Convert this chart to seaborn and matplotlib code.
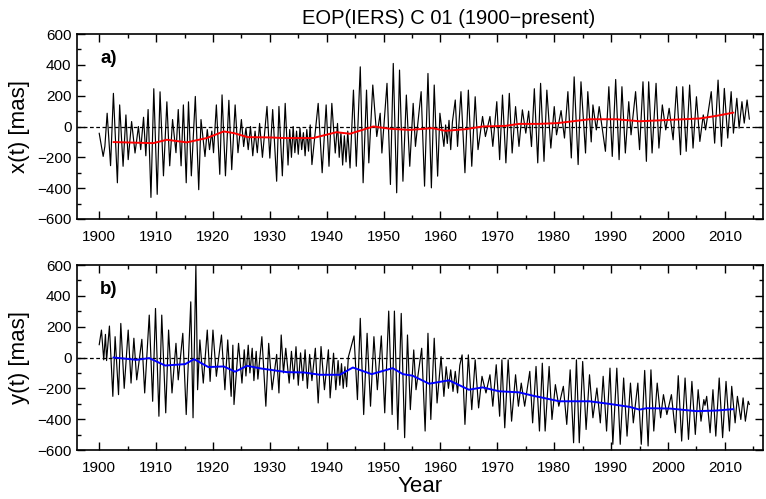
import numpy as np
import pandas as pd
import matplotlib
matplotlib.use("Agg")
import matplotlib.pyplot as plt
import seaborn as sns
from matplotlib.ticker import MultipleLocator

# ---------------- data ----------------
# panel a: x(t) polar motion, extrema [year, mas]
xa_years = [1900.0, 1900.7, 1901.0, 1901.4, 1902.0, 1902.5, 1903.2, 1903.6, 1904.2, 1904.7,
            1905.1, 1905.7, 1906.3, 1906.9, 1907.3, 1907.8, 1908.2, 1908.6, 1909.1, 1909.6,
            1910.2, 1910.7, 1911.3, 1911.9, 1912.4, 1912.9, 1913.5, 1913.9, 1914.4, 1914.8,
            1915.3, 1915.7, 1916.2, 1916.9, 1917.5, 1917.9, 1918.6, 1919.0, 1919.4, 1919.8,
            1920.1, 1920.6, 1921.2, 1921.6, 1922.2, 1922.8, 1923.3, 1923.9, 1924.4, 1925.0,
            1925.4, 1925.8, 1926.2, 1926.6, 1927.0, 1927.4, 1927.8, 1928.2, 1928.7, 1929.5,
            1930.0, 1930.5, 1931.2, 1931.6, 1932.2, 1932.7, 1933.2, 1933.5, 1933.8, 1934.1,
            1934.4, 1934.7, 1935.0, 1935.3, 1935.6, 1935.9, 1936.2, 1936.5, 1936.8, 1937.1,
            1937.4, 1938.5, 1939.2, 1939.9, 1940.4, 1940.9, 1941.5, 1941.9, 1942.2, 1942.5,
            1942.8, 1943.1, 1943.4, 1943.7, 1944.1, 1944.7, 1945.2, 1945.9, 1946.4, 1947.0,
            1947.4, 1948.1, 1948.8, 1949.4, 1949.7, 1950.6, 1951.2, 1951.7, 1952.3, 1952.8,
            1953.4, 1954.0, 1954.6, 1955.2, 1955.6, 1956.6, 1957.2, 1957.8, 1958.4, 1958.9,
            1959.5, 1959.9, 1960.6, 1960.9, 1961.2, 1961.5, 1961.8, 1962.1, 1962.6, 1963.0,
            1963.6, 1964.3, 1964.9, 1965.5, 1966.1, 1966.6, 1967.4, 1967.9, 1968.7, 1969.2,
            1969.9, 1970.4, 1970.9, 1971.5, 1972.1, 1972.6, 1973.2, 1973.8, 1974.4, 1975.0,
            1975.5, 1976.0, 1976.5, 1977.1, 1977.6, 1978.2, 1978.7, 1979.4, 1980.0, 1980.4,
            1981.2, 1981.8, 1982.4, 1983.0, 1983.5, 1984.2, 1984.7, 1985.5, 1985.9, 1986.5,
            1986.8, 1987.4, 1987.9, 1989.0, 1989.6, 1990.2, 1990.8, 1991.4, 1991.9, 1992.5,
            1993.1, 1993.5, 1994.3, 1995.0, 1995.6, 1996.2, 1996.6, 1997.2, 1997.9, 1998.4,
            1999.0, 1999.6, 2000.2, 2000.9, 2001.5, 2002.2, 2002.6, 2003.2, 2003.8, 2004.4,
            2005.0, 2005.6, 2006.2, 2006.6, 2007.6, 2008.2, 2008.8, 2009.4, 2009.9, 2010.5,
            2011.1, 2011.5, 2012.1, 2012.5, 2013.0, 2013.4, 2013.9, 2014.3]
xa_vals = [-43, -194, -129, 86, -254, 215, -365, 140, -258, 75,
           -215, 32, -172, 0, -150, 60, -190, 110, -460, 245,
           -440, 225, -320, 160, -255, 45, -170, 110, -255, 140,
           -365, 160, -320, 195, -410, 45, -195, -20, -150, -30,
           -170, 140, -310, 205, -320, 170, -280, 140, -170, 45,
           -130, -10, -150, 0, -190, -30, -170, 20, -200, 130,
           -205, 110, -355, 130, -320, 150, -250, -20, -200, 0,
           -170, -30, -180, -10, -150, -40, -190, -20, -160, 10,
           -247, 150, -300, 140, -258, 150, -172, 20, -200, -40,
           -250, -60, -230, -30, -269, 236, -258, 387, -365, 236,
           -236, 269, -65, 86, -172, 280, -376, 409, -430, 366,
           -355, 204, -258, 150, -129, 226, -387, 344, -398, 269,
           -322, 86, -129, 10, -110, 40, -150, 30, 172, -129,
           226, -300, 236, -258, 193, -150, 65, -65, 65, -129,
           161, -215, 204, -236, 215, -172, 129, -129, 108, -43,
           100, -130, 245, -236, 280, -226, 236, -140, 129, -54,
           103, -75, 226, -204, 322, -247, 290, -172, 226, -100,
           140, -22, 129, -161, 258, -194, 305, -215, 258, -172,
           161, -54, 226, -150, 290, -226, 290, -172, 280, -140,
           140, -22, 118, -86, 258, -183, 258, -161, 269, -140,
           193, -97, 75, -22, 226, -108, 301, -129, 247, -75,
           226, -43, 183, -11, 161, 22, 172, 47]

# red line: long-period mean of x(t)
xm_years = [1902.5, 1909.5, 1911.9, 1915.4, 1918.9, 1921.9, 1923.7, 1926.1, 1930.1, 1932.5,
            1936.0, 1937.6, 1941.7, 1944.1, 1948.2, 1951.2, 1954.6, 1958.6, 1960.9, 1964.5,
            1967.4, 1971.4, 1973.8, 1977.3, 1980.6, 1986.2, 1990.9, 1995.0, 2000.3, 2005.6,
            2008.5, 2011.5]
xm_vals = [-101, -108, -86, -103, -75, -32, -43, -69, -71, -75,
           -75, -75, -37, -47, 0, -15, -22, -11, -28, -17,
           0, 4, 17, 17, 22, 47, 47, 34, 43, 52,
           69, 90]

# panel b: y(t) polar motion, extrema [year, mas]
yb_years = [1900.0, 1900.4, 1900.8, 1901.1, 1901.3, 1901.8, 1902.4, 1902.8, 1903.4, 1903.8,
            1904.4, 1905.1, 1905.6, 1906.1, 1906.6, 1907.5, 1908.0, 1908.8, 1909.4, 1909.9,
            1910.5, 1911.0, 1911.7, 1912.2, 1912.8, 1913.5, 1913.9, 1914.7, 1915.3, 1916.1,
            1916.5, 1917.0, 1917.3, 1917.7, 1918.3, 1919.0, 1919.5, 1920.0, 1920.6, 1921.5,
            1922.1, 1922.6, 1923.2, 1923.5, 1923.7, 1924.5, 1925.1, 1925.5, 1925.8, 1926.2,
            1926.5, 1926.9, 1927.2, 1927.6, 1927.9, 1928.6, 1929.3, 1929.8, 1930.4, 1931.2,
            1931.6, 1932.0, 1932.4, 1932.8, 1933.4, 1933.8, 1934.2, 1934.6, 1935.0, 1935.4,
            1935.8, 1936.2, 1936.6, 1937.0, 1937.4, 1938.0, 1938.5, 1939.0, 1939.6, 1940.3,
            1940.6, 1941.2, 1941.6, 1942.0, 1942.3, 1942.6, 1942.9, 1943.2, 1943.5, 1943.8,
            1944.8, 1945.4, 1945.9, 1946.5, 1947.1, 1947.7, 1948.3, 1948.9, 1949.6, 1950.2,
            1950.9, 1951.5, 1951.9, 1952.5, 1953.1, 1953.7, 1954.2, 1954.7, 1955.3, 1955.7,
            1956.7, 1957.3, 1957.8, 1958.3, 1958.9, 1959.4, 1960.1, 1960.6, 1961.0, 1961.4,
            1961.8, 1962.2, 1962.6, 1963.0, 1963.4, 1963.8, 1964.3, 1964.9, 1965.5, 1966.1,
            1966.7, 1967.3, 1968.0, 1968.7, 1969.2, 1969.8, 1970.4, 1970.8, 1971.3, 1971.9,
            1972.5, 1973.2, 1973.7, 1974.2, 1974.8, 1975.7, 1976.2, 1976.8, 1977.4, 1977.9,
            1978.4, 1979.1, 1979.6, 1980.2, 1980.8, 1981.6, 1982.2, 1982.8, 1983.4, 1983.9,
            1984.4, 1985.0, 1985.6, 1986.2, 1986.8, 1987.5, 1988.1, 1988.6, 1989.2, 1989.8,
            1990.3, 1991.0, 1991.6, 1992.2, 1992.8, 1993.4, 1993.9, 1994.7, 1995.3, 1995.9,
            1996.5, 1997.0, 1997.5, 1998.1, 1998.7, 1999.2, 1999.8, 2000.6, 2001.3, 2001.8,
            2002.4, 2003.0, 2003.6, 2004.2, 2004.8, 2005.3, 2005.8, 2006.3, 2006.5, 2006.8,
            2007.4, 2007.9, 2008.4, 2009.0, 2009.6, 2010.2, 2010.8, 2011.2, 2011.8, 2012.2,
            2012.8, 2013.2, 2013.6, 2014.1, 2014.3]
yb_vals = [82, 178, -15, 150, -20, 204, -252, 135, -241, 221,
           -200, 178, -166, 125, -145, 118, -230, 275, -284, 318,
           -381, 275, -359, 178, -230, 92, -145, 157, -370, 361,
           -391, 600, -209, 114, -166, 178, -155, 178, -122, 146,
           -209, 114, -252, 80, -305, 92, -166, 50, -120, 80,
           -100, 60, -150, 40, -140, 135, -316, 92, -209, 20,
           -230, 146, -100, 60, -166, 40, -140, 70, -180, 30,
           -150, 50, -200, 20, -150, 60, -295, 71, -209, 50,
           -262, 28, -209, -20, -180, -40, -200, -60, -190, 2,
           140, -273, 254, -370, 157, -316, 135, -209, 140, -359,
           301, -370, 301, -467, 286, -520, 146, -338, 49, -209,
           60, -477, 157, -402, 125, -295, 6, -252, -60, -200,
           -80, -220, -90, -230, -50, 17, -434, 17, -338, -15,
           -327, -122, -230, -112, -316, -47, -381, -15, -456, -15,
           -413, -112, -316, -166, -316, -90, -424, -58, -477, -37,
           -477, -58, -402, -176, -316, -187, -434, -80, -553, -15,
           -553, -26, -467, -112, -391, -198, -424, -122, -477, -69,
           -563, -69, -563, -133, -510, -166, -424, -166, -563, -84,
           -574, -80, -477, -166, -391, -241, -370, -241, -488, -118,
           -542, -133, -531, -155, -499, -209, -413, -273, -310, -252,
           -488, -209, -510, -133, -520, -155, -477, -187, -424, -252,
           -402, -262, -413, -284, -305]

# blue line: long-period mean of y(t)
ym_years = [1902.5, 1906.6, 1908.8, 1911.6, 1915.1, 1916.7, 1919.2, 1921.9, 1923.9, 1926.0,
            1928.4, 1933.0, 1936.0, 1938.8, 1942.3, 1944.6, 1947.9, 1951.6, 1953.4, 1955.1,
            1958.0, 1961.5, 1965.0, 1967.4, 1970.3, 1973.8, 1976.5, 1977.6, 1980.9, 1986.2,
            1989.7, 1993.2, 1995.0, 1996.2, 2000.3, 2005.0, 2008.5, 2011.5]
ym_vals = [0, -15, -4, -52, -43, -11, -62, -58, -92, -54,
           -71, -95, -97, -112, -112, -65, -108, -69, -108, -118,
           -170, -148, -209, -194, -219, -226, -250, -258, -284, -284,
           -301, -320, -338, -329, -331, -348, -344, -335]

title = "EOP(IERS) C 01 (1900\u2212present)"
panel_labels = ["a)", "b)"]
ylabels = ["x(t) [mas]", "y(t) [mas]"]
xlabel = "Year"

# ---------------- plotting ----------------
sns.set_theme(style="ticks")
plt.rcParams['font.family'] = ['Liberation Sans', 'DejaVu Sans']
plt.rcParams['axes.unicode_minus'] = True
plt.rcParams['text.color'] = 'black'
plt.rcParams['axes.labelcolor'] = 'black'
plt.rcParams['xtick.color'] = 'black'
plt.rcParams['ytick.color'] = 'black'

fig = plt.figure(figsize=(7.66, 4.99), dpi=100)
ax_a = fig.add_axes([77 / 766, 1 - 219 / 499, 686 / 766, 185 / 499])
ax_b = fig.add_axes([77 / 766, 1 - 450 / 499, 686 / 766, 185 / 499])

series = [
    (ax_a, xa_years, xa_vals, xm_years, xm_vals, "#ff0000"),
    (ax_b, yb_years, yb_vals, ym_years, ym_vals, "#0000ff"),
]

for i, (ax, yrs, vals, myrs, mvals, col) in enumerate(series):
    df = pd.DataFrame({"year": yrs, "val": vals})
    dm = pd.DataFrame({"year": myrs, "val": mvals})
    ax.axhline(0, color="black", lw=0.9, ls=(0, (3, 2)), zorder=1)
    sns.lineplot(data=df, x="year", y="val", ax=ax, color="black", lw=0.85,
                 estimator=None, sort=False, zorder=2)
    sns.lineplot(data=dm, x="year", y="val", ax=ax, color=col, lw=1.4,
                 estimator=None, sort=False, zorder=3)
    ax.set_xlim(1896.1, 2016.7)
    ax.set_ylim(-600, 600)
    ax.xaxis.set_major_locator(MultipleLocator(10))
    ax.xaxis.set_minor_locator(MultipleLocator(5))
    ax.yaxis.set_major_locator(MultipleLocator(200))
    ax.yaxis.set_minor_locator(MultipleLocator(100))
    ax.tick_params(which="both", direction="in", top=True, right=True,
                   labelsize=11, colors="black", labelcolor="black", width=1.0)
    ax.tick_params(which="major", length=6)
    ax.tick_params(which="minor", length=3)
    ax.tick_params(axis="x", which="major", pad=8)
    ax.tick_params(axis="y", which="major", pad=4)
    for sp in ax.spines.values():
        sp.set_visible(True)
        sp.set_linewidth(1.2)
        sp.set_color("black")
    ax.set_ylabel(ylabels[i], fontsize=16, labelpad=5, color="black")
    ax.set_xlabel("")
    ax.text(0.034, 0.87, panel_labels[i], transform=ax.transAxes, color="black",
            fontsize=13.5, fontweight="bold", ha="left", va="center")

ax_b.set_xlabel(xlabel, fontsize=16, labelpad=1, color="black")
fig.text(449 / 766, 1 - 19 / 499, title, ha="center", va="center",
         fontsize=14.5, color="black")

fig.savefig("out.png", dpi=100)
